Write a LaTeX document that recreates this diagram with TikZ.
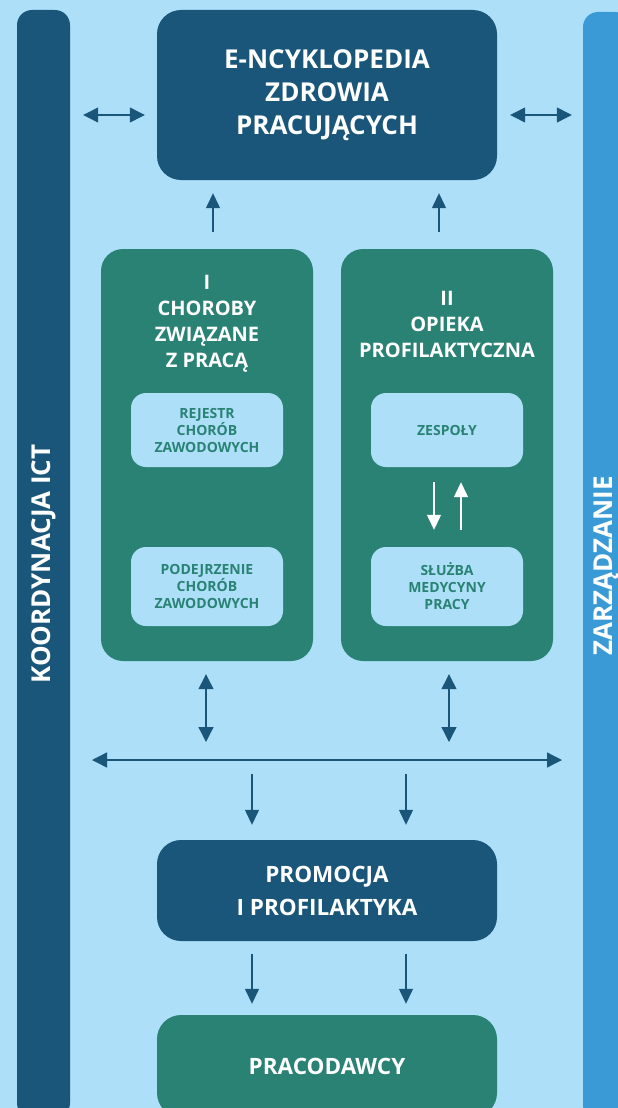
\documentclass[tikz,border=0pt]{standalone}
\usepackage{fontspec}
\setmainfont{Open Sans}
\usetikzlibrary{arrows.meta,positioning}

\definecolor{sfondo}{HTML}{ADE0F8}
\definecolor{scuro}{HTML}{1A5679}
\definecolor{verde}{HTML}{2A8274}
\definecolor{azzurro}{HTML}{3A9AD6}

\begin{document}
\begin{tikzpicture}[x=1pt,y=-1pt,font=\bfseries,
  barra/.style={rotate=90,rounded corners=15pt,inner sep=0pt,text=white,
    minimum width=1108pt,font=\bfseries\fontsize{26}{30}\selectfont},
  blocco/.style={rounded corners=24pt,inner sep=0pt,align=center,text=white,
    minimum width=340pt,font=\bfseries\fontsize{22.5}{33}\selectfont},
  pannello/.style={fill=verde,rounded corners=22pt,minimum width=212pt,minimum height=412pt},
  titolo/.style={align=center,text=white,inner sep=0pt,font=\bfseries\fontsize{20}{26}\selectfont},
  voce/.style={fill=sfondo,rounded corners=15pt,minimum width=152pt,align=center,
    text=verde,inner sep=0pt,font=\bfseries\fontsize{14}{17}\selectfont},
  freccia/.style={draw=scuro,line width=1.3pt,-{Triangle[length=15pt,width=14pt]}},
  doppia/.style={draw=scuro,line width=1.3pt,{Triangle[length=15pt,width=15pt]}-{Triangle[length=15pt,width=15pt]}},
  bianca/.style={draw=white,line width=1.3pt,-{Triangle[length=15pt,width=14pt]}}]

\useasboundingbox (0,0) rectangle (618,1108);
\clip (0,0) rectangle (618,1108);
\fill[sfondo] (0,0) rectangle (618,1108);

\node[barra,fill=scuro,minimum height=53pt] (ict) at (43.5,564) {KOORDYNACJA ICT};
\node[barra,fill=azzurro,minimum height=47pt] (zarz) at (606.5,566) {ZARZĄDZANIE};

\node[blocco,fill=scuro,minimum height=170pt,font=\bfseries\fontsize{26}{33}\selectfont] (enc) at (327,95) {E-NCYKLOPEDIA\\ZDROWIA\\PRACUJĄCYCH};

\node[pannello] (chor) at (207,455) {};
\node[pannello] (opie) at (447,455) {};
\node[titolo] (chortit) at (207,324) {I\\CHOROBY\\ZWIĄZANE\\Z PRACĄ};
\node[titolo] (opietit) at (447,324) {II\\OPIEKA\\PROFILAKTYCZNA};

\node[voce,minimum height=74pt] (rej) at (207,430) {REJESTR\\CHORÓB\\ZAWODOWYCH};
\node[voce,minimum height=79pt] (pod) at (207,586.5) {PODEJRZENIE\\CHORÓB\\ZAWODOWYCH};
\node[voce,minimum height=74pt] (zes) at (447,430) {ZESPOŁY};
\node[voce,minimum height=79pt] (slu) at (447,586.5) {SŁUŻBA\\MEDYCYNY\\PRACY};

\node[blocco,fill=scuro,minimum height=101pt] (prom) at (327,890.5) {PROMOCJA\\I PROFILAKTYKA};
\node[blocco,fill=verde,minimum height=102pt] (prac) at (327,1066) {PRACODAWCY};

% frecce in alto
\coordinate (fs) at ([yshift=-20pt]enc.west);
\coordinate (fd) at ([yshift=-20pt]enc.east);
\draw[doppia,shorten <=13pt,shorten >=12pt] (fs -| ict.south) -- (fs);
\draw[doppia,shorten <=13pt,shorten >=11pt] (fd) -- (fd -| zarz.north);

\coordinate (ca) at ([xshift=6pt]chor.north);
\coordinate (cb) at ([xshift=-8pt]opie.north);
\draw[freccia,shorten <=17pt,shorten >=13pt] (ca) -- (ca |- enc.south);
\draw[freccia,shorten <=17pt,shorten >=13pt] (cb) -- (cb |- enc.south);

\draw[bianca,shorten <=15pt,shorten >=17pt] ([xshift=-13pt]zes.south) -- ([xshift=-13pt]slu.north);
\draw[bianca,shorten <=17pt,shorten >=15pt] ([xshift=14pt]slu.north) -- ([xshift=14pt]zes.south);

% linea orizzontale
\coordinate (lsx) at (92,760);
\coordinate (ldx) at (562,760);
\draw[doppia] (lsx) -- (ldx);

\coordinate (va) at ([xshift=-1pt]chor.south);
\coordinate (vb) at ([xshift=2pt]opie.south);
\draw[doppia,shorten <=13pt,shorten >=18pt] (va) -- (va |- lsx);
\draw[doppia,shorten <=13pt,shorten >=18pt] (vb) -- (vb |- lsx);

\coordinate (pa) at ([xshift=-75pt]prom.north);
\coordinate (pb) at ([xshift=79pt]prom.north);
\draw[freccia,shorten <=14pt,shorten >=15pt] (pa |- lsx) -- (pa);
\draw[freccia,shorten <=14pt,shorten >=15pt] (pb |- lsx) -- (pb);

\coordinate (qa) at ([xshift=-75pt]prom.south);
\coordinate (qb) at ([xshift=79pt]prom.south);
\draw[freccia,shorten <=13pt,shorten >=11pt] (qa) -- (qa |- prac.north);
\draw[freccia,shorten <=13pt,shorten >=11pt] (qb) -- (qb |- prac.north);

\end{tikzpicture}
\end{document}
